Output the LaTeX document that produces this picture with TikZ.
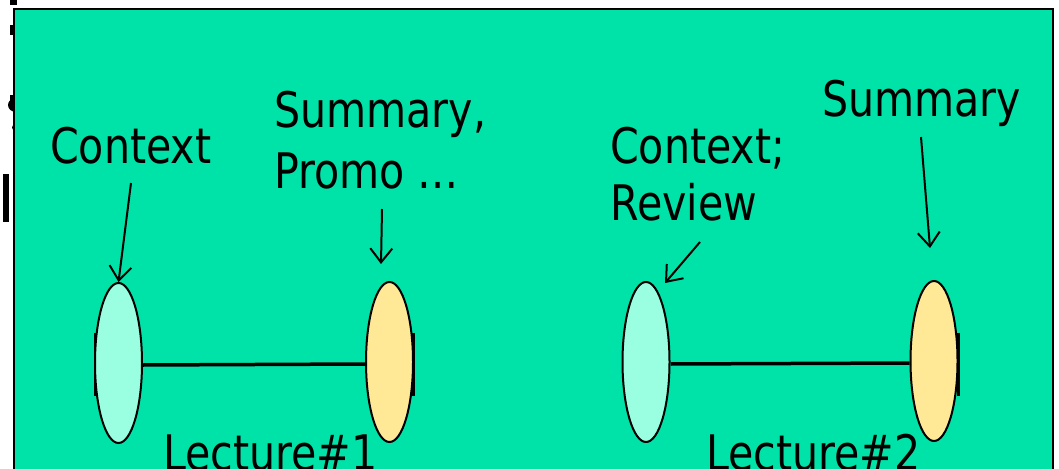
\documentclass[tikz,border=0pt]{standalone}
\usepackage{fontspec}
\setmainfont[FakeStretch=0.84]{DejaVu Sans}
\usetikzlibrary{shapes.geometric,arrows.meta,calc}
\definecolor{bggreen}{RGB}{0,227,168}
\definecolor{lightcyan}{RGB}{153,255,224}
\definecolor{lightyellow}{RGB}{255,232,150}
\tikzset{
  lbl/.style={anchor=base west,inner sep=0pt,font=\fontsize{49}{58}\selectfont,align=left},
  ctx/.style={ellipse,draw=black,line width=2pt,fill=lightcyan,minimum width=47pt,minimum height=160pt,inner sep=0pt},
  smy/.style={ellipse,draw=black,line width=2pt,fill=lightyellow,minimum width=47pt,minimum height=160pt,inner sep=0pt},
  bar/.style={line width=3pt},
  axle/.style={line width=3.5pt},
  pointer/.style={line width=2pt,-{Straight Barb[length=14pt,width=22pt]}}
}
\begin{document}
\begin{tikzpicture}[x=1pt,y=-1pt]
\useasboundingbox (0,0) rectangle (1059,468);
% fragments of text hidden behind the panel
\fill (10,0) rectangle (17,5);
\fill (10,25) rectangle (15,35);
\fill (10,95) rectangle (15,100);
\fill (16,112) arc[start angle=90,end angle=270,x radius=8,y radius=7] -- (16,124) arc[start angle=270,end angle=90,x radius=4,y radius=3.5] -- cycle;
\fill (3,174) rectangle (9,222);
% panel
\draw[line width=2pt,fill=bggreen] (14,9) rectangle (1053,480);
% end bars behind the ellipses
\draw[bar] (95,333) -- (95,396);
\draw[bar] (413.5,333) -- (413.5,396);
\draw[bar] (958.5,333) -- (958.5,396);
% ellipses
\node[ctx] (e1) at (118.5,363) {};
\node[smy] (e2) at (389.5,362) {};
\node[ctx] (e3) at (646,362) {};
\node[smy] (e4) at (934,361) {};
\draw[axle] ($(e1.east)+(0,2)$) -- ($(e2.west)+(0,2)$);
\draw[axle] ($(e3.east)+(0,2)$) -- ($(e4.west)+(0,2)$);
% labels
\node[lbl] (l1) at (50,163) {Context};
\node[lbl,font=\fontsize{49}{61}\selectfont] (l2) at (274,188) {Summary,\\Promo \dots};
\node[lbl,font=\fontsize{49}{57}\selectfont] (l3) at (610,220) {Context;\\Review};
\node[lbl] (l4) at (822,117) {Summary};
\node[lbl] (l5) at (163,470) {Lecture\#1};
\node[lbl] (l6) at (706,470) {Lecture\#2};
% pointers
\coordinate (s1) at (131,183);
\coordinate (s2) at (382,209);
\coordinate (t2) at (381,264);
\coordinate (s3) at (700,242);
\coordinate (t3) at (665,283);
\coordinate (s4) at (921,137);
\coordinate (t4) at (930,248);
\draw[pointer] (s1) -- (e1.north);
\draw[pointer] (s2) -- (t2);
\draw[pointer] (s3) -- (t3);
\draw[pointer] (s4) -- (t4);
\end{tikzpicture}
\end{document}
